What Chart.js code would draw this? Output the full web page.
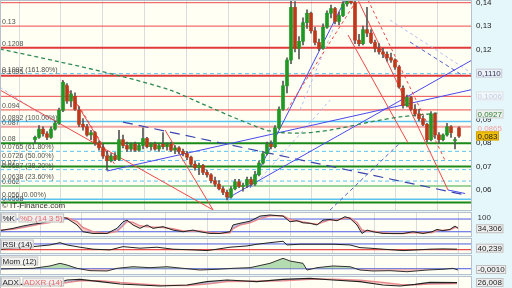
<!DOCTYPE html>
<html>
<head>
<meta charset="utf-8">
<script src="https://cdn.jsdelivr.net/npm/chart.js@4.4.1/dist/chart.umd.min.js"></script>
<style>
    body { margin: 0; background: #e6f7fb; }
    #wrap { position: relative; width: 512px; height: 288px; overflow: hidden; }
    canvas { position: absolute; left: 0; }
</style>
</head>
<body>
<div id="wrap">
    <canvas id="cMain" width="512" height="211" style="top:0"></canvas>
    <canvas id="cStoch" width="512" height="25" style="top:212px"></canvas>
    <canvas id="cRsi" width="512" height="16" style="top:238px"></canvas>
    <canvas id="cMom" width="512" height="20" style="top:255px"></canvas>
    <canvas id="cAdx" width="512" height="14" style="top:276px"></canvas>
</div>
<script>
// candles (one per session)
const opens  = [.0815,.0825,.086,.084,.0825,.086,.0885,.094,.1045,.098,.100,.094,.088,.087,.0835,.0845,.080,.078,.0745,.0725,
                .0745,.073,.0815,.079,.0775,.0795,.077,.079,.082,.0785,.0795,.0775,.0795,.0785,.0795,.077,.078,.0765,.0755,.074,
                .071,.0695,.0705,.0675,.0665,.064,.0625,.0605,.059,.057,.0605,.0635,.0615,.062,.0645,.0625,.0665,.0715,.0755,.0795,
                .0785,.0865,.0945,.1045,.1155,.138,.1205,.1235,.1315,.1355,.128,.123,.1205,.1295,.1355,.1375,.132,.1345,.1395,.141,
                .140,.124,.1225,.1285,.127,.123,.1205,.119,.118,.1165,.1155,.1125,.1035,.096,.0995,.0945,.0925,.0905,.088,.0815,
                .0925,.0835,.0815,.0835,.087,.081,.0865];
const highs  = [.083,.0875,.087,.085,.087,.0895,.095,.1067,.1055,.1025,.1015,.0955,.0905,.088,.0855,.085,.081,.0795,.0765,.0755,
                .076,.0855,.0835,.0805,.080,.0805,.0795,.0865,.0825,.080,.0805,.0795,.0845,.080,.0805,.079,.0785,.0775,.0765,.0745,
                .0725,.0715,.071,.0685,.067,.0655,.064,.0615,.060,.0615,.0645,.0645,.063,.0655,.0655,.068,.0725,.0765,.0805,.081,
                .0875,.0955,.1065,.1165,.1425,.1405,.1255,.1335,.137,.136,.1295,.1245,.131,.1365,.139,.138,.136,.1405,.1425,.1425,
                .1425,.1265,.130,.138,.1285,.124,.1225,.1205,.119,.1185,.116,.113,.1045,.1005,.100,.0965,.0945,.0915,.0885,.0935,
                .093,.0845,.084,.0885,.0875,.0825,.087];
const lows   = [.080,.082,.083,.0815,.082,.0855,.088,.0935,.097,.0955,.094,.087,.0855,.083,.0815,.079,.077,.0735,.0685,.072,
                .0725,.0725,.078,.0765,.0765,.0765,.0765,.0775,.078,.077,.077,.0765,.0775,.077,.0765,.0755,.0755,.0745,.073,.070,
                .0685,.0665,.0665,.0655,.063,.0615,.060,.058,.0558,.0565,.060,.061,.0595,.061,.062,.062,.066,.071,.075,.0775,
                .078,.086,.094,.1015,.114,.119,.116,.122,.129,.127,.122,.1195,.120,.129,.1335,.131,.1305,.134,.1385,.1395,
                .1225,.1215,.122,.1255,.1225,.119,.118,.1165,.115,.1145,.1115,.1035,.095,.0955,.094,.0915,.0895,.0875,.0805,.081,
                .082,.080,.081,.083,.0825,.0775,.0825];
const closes = [.0825,.086,.084,.0825,.086,.0885,.094,.106,.098,.101,.0945,.088,.087,.0835,.0845,.080,.078,.0745,.0725,.0745,
                .073,.0815,.079,.0775,.0795,.077,.079,.082,.0785,.0795,.0775,.079,.0785,.0795,.077,.078,.0765,.0755,.074,.071,
                .0695,.0705,.0675,.0665,.064,.0625,.0605,.059,.057,.0605,.0635,.0615,.062,.0645,.0625,.0665,.0715,.0755,.0795,.0785,
                .0865,.0945,.1045,.1155,.138,.1205,.1235,.1315,.1355,.128,.123,.1205,.1295,.1355,.1375,.132,.1345,.1395,.141,.140,
                .124,.1225,.1285,.127,.123,.1205,.119,.118,.1165,.1155,.1125,.104,.096,.0995,.0945,.0925,.0905,.088,.0815,.0925,
                .0835,.0815,.0835,.087,.0845,.0815,.083];

// horizontal levels
const redLevels = [0.14, 0.13, 0.1, 0.0942];
const redThickLevels = [0.1208, 0.1088];
const pinkLevels = [0.087];
const greenLevels = [0.08, 0.07, 0.0546];
const lightGreenLevels = [0.0617];
const fibDashed = [0.1097, 0.0765, 0.0726, 0.0687, 0.0638];
const fibSolid = [0.0892, 0.056];

// trend lines [x1, y1, x2, y2] in session index / price
const redTrends = [[-8.75, 0.1027, 44.5, 0.0515], [6.75, 0.107, 18.75, 0.0737], [32.5, 0.0856, 44.5, 0.0515],
                   [80.75, 0.1412, 103.25, 0.06], [78.25, 0.1262, 93.25, 0.0801]];
const redDashTrends = [[63, 0.0942, 80, 0.1399], [9.25, 0.1006, 20, 0.0707], [83.25, 0.1412, 102.5, 0.0727]];
const blueTrends = [[18, 0.0681, 109.25, 0.1029], [48.25, 0.0566, 109.25, 0.1155], [53.75, 0.0609, 77.5, 0.1412],
                    [103.25, 0.06, 107.5, 0.0585]];
const blueLongDash = [[22, 0.089, 107.5, 0.0579]];
const blueDash = [[93.75, 0.1232, 106.75, 0.1091], [73.75, 0.0514, 91.25, 0.0801]];
const paleBlueDash = [[-8.75, 0.1039, 6.25, 0.0868], [54.5, 0.0613, 73.75, 0.0984], [66.25, 0.0942, 77.5, 0.1412],
                      [88.75, 0.1326, 108.75, 0.1104]];

// moving average (green dashed)
const maIdx  = [-8.75, 6.25, 21.25, 33.75, 41.25, 51.25, 58.75, 66.25, 73.75, 83.75, 91.25, 101.25];
const maVals = [0.1202, 0.1147, 0.1087, 0.1027, 0.0972, 0.0899, 0.0852, 0.0843, 0.0856, 0.089, 0.0912, 0.0929];

// left level labels
const leftText = ['0.14', '0.13', '0.1208', '0.1097 (161.80%)', '0.1095', '0.094', '0.0892 (100.00%)', '0.087', '0.08',
                  '0.0765 (61.80%)', '0.0726 (50.00%)', '0.07', '0.0687 (38.20%)', '0.0638 (23.60%)', '0.062',
                  '0.056 (0.00%)', '0.0558'];
const leftVals = [0.14, 0.13, 0.1208, 0.1097, 0.1088, 0.0942, 0.0892, 0.087, 0.08, 0.0765, 0.0726, 0.07, 0.0687, 0.0638,
                  0.0617, 0.056, 0.0546];

// right boxed values
const rightTagText = ['0,1110', '0,1006', '0,0927', '0,0865', '0,083'];
const rightTagVals = [0.1099, 0.1002, 0.0925, 0.0862, 0.0831];

// indicators
const stochIdx = [-8.75,-5.5,-3,-0.5,1.25,3.75,5.75,8,10.5,12,14.5,18,20.5,22,23,24.5,26.25,28,29.5,32,34.5,37,39.5,41.25,
                  43.75,46.25,48.75,49.5,51.25,53.75,56.25,58.75,62,63.75,65.5,67,68.75,70.5,72,73.75,75.5,77.5,78.75,
                  80.5,81.75,83,84.5,87,89.5,92,94.5,97,99.25,100.5,102,103.75,105,105.75];
const stochK = [25,36,47,56,60,72,94,83,52,20,12,12,36,67,75,52,36,52,36,44,28,20,28,20,12,12,20,52,60,70,
                94,99,94,67,72,62,60,52,75,78,72,91,83,52,12,28,20,12,12,12,20,12,20,31,25,31,47,36];
const stochD = [28,32,40,50,56,64,80,86,68,40,20,13,22,48,68,64,48,44,42,40,34,24,24,24,16,13,15,35,52,62,
                82,95,96,78,72,66,60,55,66,76,75,84,86,64,28,22,22,15,12,12,16,15,16,26,27,30,40,40];

const rsiIdx = [-8.75,-0.5,3.75,6.25,8,11.25,14.5,18.75,22,26.25,30.5,34.5,39.5,43,45.5,48.75,53,55.5,58.75,62,63,
                66.25,74.5,78.75,81.25,83.75,87,92,95.5,98.75,102,105.5];
const rsiVals = [33,51,63,79,63,47,33,28,51,40,47,33,28,23,33,47,56,68,79,89,63,68,68,63,44,40,33,23,28,33,35,33];

const momIdx = [-8.75,-0.5,3.75,6.25,8,10.5,13.75,18,20.5,24.5,28.75,33,37,41.25,45.5,49.5,53.75,58.75,62,63.75,67,68,
                70.5,74.5,78.75,81.25,84.5,88.75,93,98,102,104.5,105.75];
const momVals = [-0.0002,0.0004,0.0026,0.0051,0.0035,0.0004,-0.0018,-0.0021,0.0004,0.0019,0.001,0.0019,0.0004,-0.0012,
                 -0.0005,0.0004,0.001,0.0051,0.0098,0.0073,0.0051,-0.0012,0.001,0.0026,0.0019,-0.0012,-0.0021,-0.0018,
                 -0.0028,-0.0012,-0.0005,0.0004,-0.0012];

const adxIdx  = [-8.75,5.5,8,11.25,16.25,21.25,26.25,31.25,38,43,48,55.5,62,68.75,74.5,81.25,87,91.25,95,98.75,105.5];
const adxVals  = [20.7,24.3,31.4,32.9,27.8,22.9,20.7,18.6,20.7,27.8,31.4,27.8,32.9,35.1,31.4,27.8,20.7,18.6,22,26.5,26];
const adxrVals = [22,22,26,30,30,26,23,20,19.5,23,28,29,30,33,33,31,26,22,21,23,24];

// ---------- setup ----------
const XMIN = -8.75, XMAX = 109.25;
const FONT = 'Liberation Sans';
const CREAM = '#fffff3', CYAN = '#e6f7fb';

function pts(xs, ys) { return xs.map((x, i) => ({ x: x, y: ys[i] })); }

function hLine(v, color, width, dash) {
    return { type: 'line', data: [{ x: XMIN, y: v }, { x: XMAX, y: v }], borderColor: color, borderWidth: width,
             borderDash: dash || [], pointRadius: 0, order: 6 };
}
function seg(s, color, width, dash) {
    return { type: 'line', data: [{ x: s[0], y: s[1] }, { x: s[2], y: s[3] }], borderColor: color, borderWidth: width,
             borderDash: dash || [], pointRadius: 0, order: 4 };
}

function xScale() {
    return {
        type: 'linear', min: XMIN, max: XMAX, offset: false,
        grid: { color: '#dcdcdc', drawTicks: false }, border: { display: false },
        ticks: { display: false },
        afterBuildTicks: s => { s.ticks = Array.from({ length: 11 }, (_, k) => ({ value: 1.25 + k * 10.45 })); },
        afterFit: s => { s.height = 0; s.paddingLeft = 0; s.paddingRight = 0; }
    };
}
// right axis keeps a fixed 40px strip and no extra vertical padding
function fixRight(s) { s.width = 40; s.paddingTop = 0; s.paddingBottom = 0; }

function tag(ctx, x, yMid, text, fg, bg, border) {
    ctx.font = '8px "' + FONT + '"';
    const w = ctx.measureText(text).width + 3;
    if (bg) {
        ctx.fillStyle = bg;
        ctx.fillRect(x, yMid - 4.5, w, 9);
    }
    if (border) {
        ctx.strokeStyle = border;
        ctx.lineWidth = 1;
        ctx.strokeRect(x + 0.5, yMid - 4.5 + 0.5, w - 1, 8);
    }
    ctx.fillStyle = fg;
    ctx.textBaseline = 'middle';
    ctx.textAlign = 'left';
    ctx.fillText(text, x + 1.5, yMid + 0.5);
    return w;
}

const bgPlugin = {
    id: 'bg',
    beforeDraw(chart) {
        const { ctx, chartArea: a } = chart;
        ctx.save();
        ctx.fillStyle = CYAN;
        ctx.fillRect(0, 0, chart.width, chart.height);
        ctx.fillStyle = CREAM;
        ctx.fillRect(a.left, a.top, a.right - a.left, a.bottom - a.top);
        ctx.restore();
    },
    afterDraw(chart) {
        const { ctx, chartArea: a } = chart;
        ctx.save();
        ctx.strokeStyle = '#b8c0cc';
        ctx.lineWidth = 1;
        ctx.strokeRect(a.left + 0.5, a.top + 0.5, a.right - a.left - 1, a.bottom - a.top - 1);
        ctx.restore();
    }
};

// ---------- main chart ----------
const YMAX = 0.14 + 2.7 / 2341, YMIN = 0.14 - 208.3 / 2341;
const ci = opens.map((_, i) => i);
const bodyColors = ci.map(i => closes[i] >= opens[i] ? '#1e9a24' : '#c0381c');

const mainDatasets = [
    { type: 'bar', data: ci.map(i => ({ x: i, y: [Math.min(opens[i], closes[i]), Math.max(opens[i], closes[i])] })),
      backgroundColor: bodyColors, barThickness: 3, grouped: false, order: 0 },
    { type: 'bar', data: ci.map(i => ({ x: i, y: [lows[i], highs[i]] })),
      backgroundColor: '#555', barThickness: 1, grouped: false, order: 1 },
    { type: 'line', data: pts(maIdx, maVals), borderColor: '#2f8a55', borderWidth: 1.3, borderDash: [4, 3],
      pointRadius: 0, tension: 0.3, order: 3 }
];
redLevels.forEach(v => mainDatasets.push(hLine(v, '#ee4a4a', 1)));
redThickLevels.forEach(v => mainDatasets.push(hLine(v, '#e03a3a', 2)));
pinkLevels.forEach(v => mainDatasets.push(hLine(v, '#f2a5a5', 2)));
greenLevels.forEach(v => mainDatasets.push(hLine(v, '#1a8a1a', 2)));
lightGreenLevels.forEach(v => mainDatasets.push(hLine(v, '#9ad49a', 2)));
fibDashed.forEach(v => mainDatasets.push(hLine(v, '#5cc4f2', 1, [4, 3])));
fibSolid.forEach(v => mainDatasets.push(hLine(v, '#5cc4f2', 1.5)));
redTrends.forEach(s => mainDatasets.push(seg(s, '#f04848', 1)));
redDashTrends.forEach(s => mainDatasets.push(seg(s, '#f04848', 1, [3, 3])));
blueTrends.forEach(s => mainDatasets.push(seg(s, '#4a4af0', 1)));
blueLongDash.forEach(s => mainDatasets.push(seg(s, '#3a44b0', 1.2, [10, 6])));
blueDash.forEach(s => mainDatasets.push(seg(s, '#5060c8', 1, [4, 3])));
paleBlueDash.forEach(s => mainDatasets.push(seg(s, '#b4bcf0', 1, [3, 3])));

const mainLabels = {
    id: 'mainLabels',
    afterDatasetsDraw(chart) {
        const { ctx, scales: { y }, chartArea: a } = chart;
        ctx.save();
        ctx.font = '7px "' + FONT + '"';
        ctx.fillStyle = '#505050';
        ctx.textAlign = 'left';
        ctx.textBaseline = 'alphabetic';
        leftText.forEach((t, i) => ctx.fillText(t, 2, y.getPixelForValue(leftVals[i]) - 2));
        ctx.font = '8px "' + FONT + '"';
        ctx.fillStyle = '#333';
        ctx.fillText('\u00a9 IT-Finance.com', 2, a.bottom - 3);
        const styles = [['#2d3a6a', '#eef0f4', '#c8ccd8'], ['#c4c8e0', '#f2f8fa', '#dde2e8'], ['#2e7d32', '#eef2ee', '#c8ccd0'],
                        ['#f2a0a0', null, null], ['#222', '#f4c20d', '#d0a000']];
        rightTagText.forEach((t, i) => {
            const s = styles[i];
            tag(ctx, a.right + 4, y.getPixelForValue(rightTagVals[i]), t, s[0], s[1], s[2]);
        });
        ctx.restore();
    }
};

new Chart(document.getElementById('cMain'), {
    type: 'bar',
    data: { datasets: mainDatasets },
    options: {
        responsive: false, animation: false, events: [],
        layout: { padding: 0 },
        plugins: { legend: { display: false }, tooltip: { enabled: false } },
        scales: {
            x: xScale(),
            y: {
                position: 'right', min: YMIN, max: YMAX,
                grid: { display: false, drawTicks: false }, border: { display: false },
                ticks: {
                    stepSize: 0.01, includeBounds: false, padding: 4, color: '#222', font: { family: FONT, size: 8 },
                    callback: v => v.toFixed(2).replace('.', ',')
                },
                afterFit: fixRight
            }
        }
    },
    plugins: [bgPlugin, mainLabels]
});

// ---------- sub panels ----------
function panel(id, yMin, yMax, datasets, names, tags) {
    const labels = {
        id: 'panelLabels',
        afterDraw(chart) {
            const { ctx, scales: { y }, chartArea: a } = chart;
            ctx.save();
            let x = 1;
            names.forEach(n => { x += tag(ctx, x, a.top + 6, n[0], n[1], 'rgba(240,240,240,0.9)', '#c4c4c4') + 2; });
            tags.forEach(t => {
                const py = y.getPixelForValue(t[1]);
                if (t[2]) tag(ctx, a.right + 4, py, t[0], '#222', '#eeeeee', '#c0c0c0');
                else tag(ctx, a.right + 4, py, t[0], '#333', null, null);
            });
            ctx.restore();
        }
    };
    new Chart(document.getElementById(id), {
        type: 'line',
        data: { datasets: datasets },
        options: {
            responsive: false, animation: false, events: [],
            layout: { padding: 0 },
            plugins: { legend: { display: false }, tooltip: { enabled: false } },
            elements: { point: { radius: 0 }, line: { tension: 0 } },
            scales: {
                x: xScale(),
                y: {
                    position: 'right', min: yMin, max: yMax,
                    grid: { display: false, drawTicks: false }, border: { display: false },
                    ticks: { display: false },
                    afterFit: fixRight
                }
            }
        },
        plugins: [bgPlugin, labels]
    });
}

function lvl(v, color, width) {
    return { data: [{ x: XMIN, y: v }, { x: XMAX, y: v }], borderColor: color, borderWidth: width || 1, pointRadius: 0 };
}

panel('cStoch', -4.7, 113.2, [
    { data: pts(stochIdx, stochK), borderColor: '#222', borderWidth: 1,
      fill: { target: 1, above: 'rgba(120,130,210,0.45)', below: 'rgba(240,150,150,0.45)' } },
    { data: pts(stochIdx, stochD), borderColor: '#f08a8a', borderWidth: 1.5 },
    lvl(80, '#4b5be6'), lvl(20, '#4b5be6')
], [['%K', '#222'], ['%D (14 3 5)', '#e86a6a']], [['100', 88, false], ['34,306', 34.3, true]]);

panel('cRsi', -1, 112, [
    { data: pts(rsiIdx, rsiVals), borderColor: '#222', borderWidth: 1 },
    lvl(70, '#4b5be6'), lvl(30, '#e84a4a', 1.3)
], [['RSI (14)', '#222']], [['40,239', 40.2, true]]);

panel('cMom', -0.00588, 0.01293, [
    { data: pts(momIdx, momVals), borderColor: '#333', borderWidth: 1,
      fill: { target: { value: 0 }, above: 'rgba(120,190,120,0.55)', below: 'rgba(240,150,150,0.55)' } },
    lvl(0, '#4b5be6')
], [['Mom (12)', '#222']], [['-0,0010', -0.0007, true]]);

panel('cAdx', 10, 40, [
    { data: pts(adxIdx, adxVals), borderColor: '#222', borderWidth: 1.2,
      fill: { target: 1, above: 'rgba(130,140,200,0.4)', below: 'rgba(240,160,160,0.4)' } },
    { data: pts(adxIdx, adxrVals), borderColor: '#f08a8a', borderWidth: 1.5 }
], [['ADX', '#222'], ['ADXR (14)', '#e86a6a']], [['26,008', 26, true]]);
</script>
</body>
</html>
